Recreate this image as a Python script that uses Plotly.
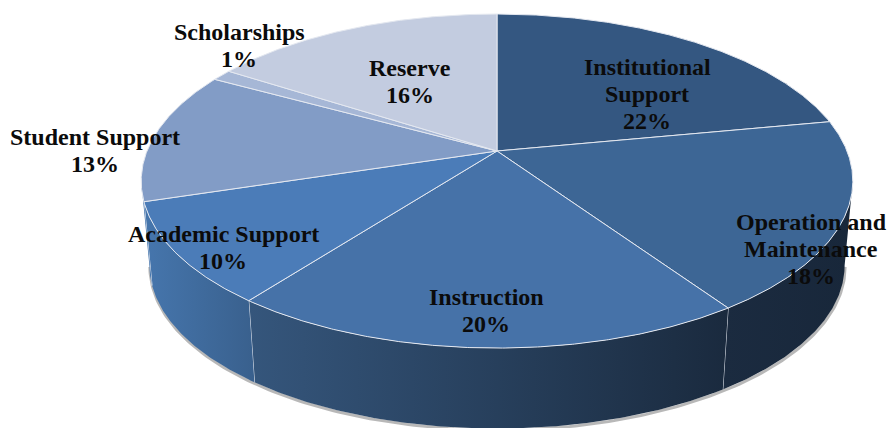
import numpy as np
import plotly.graph_objects as go

categories = ["Institutional|Support", "Operation and|Maintenance", "Instruction",
              "Academic Support", "Student Support", "Scholarships", "Reserve"]
shares = [22.0, 18.5, 19.9, 9.8, 12.8, 1.1, 15.9]
pct_labels = ["22%", "18%", "20%", "10%", "13%", "1%", "16%"]
top_colors = ["#345781", "#3d6695", "#4672a8", "#4b7cb8", "#829cc6", "#a6b7d6", "#c3cce0"]
wall_left = [None, "#1b2b40", "#35567c", "#4676ad", "#4676ad", None, None]
wall_right = [None, "#18273a", "#1a2a3e", "#39608d", "#4676ad", None, None]
label_x = [647, 811, 486, 223, 95, 239, 410]
label_top_y = [67, 222, 297, 234, 137, 32, 68]
LINE_STEP = 27

# Perspective projection of the pie's circle onto the page
CX, CY, A, B, K = 497.0, 151.0, 350.0, 161.6, 0.18
BOTTOM_CY, BOTTOM_SCALE = 236.0, 0.977
LEFT_SIL = np.degrees(2 * np.pi - np.arccos(-K))
RIGHT_SIL = np.degrees(np.arccos(-K))


def project(deg, bottom=False):
    t = np.radians(np.asarray(deg, dtype=float))
    d = 1 + K * np.cos(t)
    x = A * np.sin(t) / d
    y = -B * np.cos(t) / d
    if bottom:
        return CX + BOTTOM_SCALE * x, BOTTOM_CY + BOTTOM_SCALE * y
    return CX + x, CY + y


edges = np.concatenate([[0], np.cumsum(shares)]) / sum(shares) * 360
fig = go.Figure()
LINE = "#e4e8f0"

# soft shadow under the walls
arc = np.linspace(RIGHT_SIL, LEFT_SIL, 200)
sx, sy = project(arc, bottom=True)
fig.add_trace(go.Scatter(x=sx + 0.5, y=sy + 1.5, mode="lines",
                         line=dict(color="rgba(0,0,0,0.28)", width=3), hoverinfo="skip"))

# side walls
for i in range(len(shares)):
    if wall_left[i] is None:
        continue
    a0 = max(edges[i], RIGHT_SIL)
    a1 = min(edges[i + 1], LEFT_SIL)
    if a1 <= a0:
        continue
    arc = np.linspace(a0, a1, 100)
    tx, ty = project(arc)
    bx, by = project(arc, bottom=True)
    fig.add_trace(go.Scatter(
        x=np.concatenate([tx, bx[::-1]]), y=np.concatenate([ty, by[::-1]]),
        mode="lines", fill="toself", line=dict(width=0, color="rgba(0,0,0,0)"),
        fillgradient=dict(type="horizontal",
                          colorscale=[[0, wall_left[i]], [1, wall_right[i]]]),
        hoverinfo="skip"))
    if edges[i + 1] < LEFT_SIL:
        ex, ey = project([edges[i + 1]])
        fx, fy = project([edges[i + 1]], bottom=True)
        fig.add_trace(go.Scatter(x=[ex[0], fx[0]], y=[ey[0], fy[0]], mode="lines",
                                 line=dict(color=LINE, width=1), hoverinfo="skip"))

# top faces
for i in range(len(shares)):
    arc = np.linspace(edges[i], edges[i + 1], max(int(edges[i + 1] - edges[i]) * 3, 6))
    tx, ty = project(arc)
    fig.add_trace(go.Scatter(
        x=np.concatenate([[CX], tx, [CX]]), y=np.concatenate([[CY], ty, [CY]]),
        mode="lines", fill="toself", fillcolor=top_colors[i],
        line=dict(color=LINE, width=1), hovertext=categories[i].replace("|", " "),
        hoverinfo="text"))

# labels: one annotation per line for the tight leading of the original
for name, pct, lx, ly in zip(categories, pct_labels, label_x, label_top_y):
    for n, line in enumerate(name.split("|") + [pct]):
        fig.add_annotation(x=lx, y=ly + n * LINE_STEP, xref="x", yref="y",
                           text=f"<b>{line}</b>", showarrow=False, align="center",
                           font=dict(family="Liberation Serif", size=24, color="#0b0b0b"))

fig.update_layout(
    width=887, height=428, showlegend=False, paper_bgcolor="white", plot_bgcolor="white",
    margin=dict(l=0, r=0, t=0, b=0),
    xaxis=dict(range=[0, 887], visible=False, fixedrange=True),
    yaxis=dict(range=[428, 0], visible=False, fixedrange=True),
)
fig.write_html("out.html", config=dict(displayModeBar=False),
               post_script="document.body.style.margin='0';document.body.style.overflow='hidden';")
